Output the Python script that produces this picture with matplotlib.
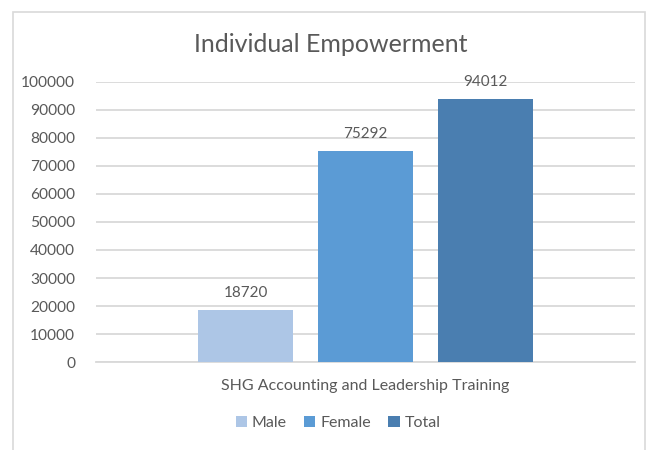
import matplotlib.pyplot as plt
from matplotlib.patches import Rectangle

# chart data
category = "SHG Accounting and Leadership Training"
series = ["Male", "Female", "Total"]
values = [18720, 75292, 94012]
colors = ["#adc6e6", "#5b9bd5", "#4a7eb0"]
yticks = list(range(0, 100001, 10000))

plt.rcParams["font.family"] = ["Lato", "DejaVu Sans"]
text_color = "#595959"

fig = plt.figure(figsize=(6.62, 4.5), dpi=100)
W, H = 662, 450

# chart border like an Excel chart object
fig.patches.append(Rectangle((13 / W, -0.05), (645 - 13) / W, 1.05 - 12 / H,
                             transform=fig.transFigure, fill=False,
                             edgecolor="#d9d9d9", linewidth=1.2))

# plot area: x 96..635, y 82..362 (pixels from top)
ax = fig.add_axes([96 / W, 1 - 362 / H, (635 - 96) / W, (362 - 82) / H])

positions = [-1, 0, 1]
bars = ax.bar(positions, values, width=0.79, color=colors, zorder=3)

for x, v in zip(positions, values):
    ax.annotate(str(v), (x, v), xytext=(0, 7), textcoords="offset points",
                ha="center", va="bottom", fontsize=11, color=text_color)

ax.set_xlim(-2.246, 2.246)
ax.set_ylim(0, 100000)
ax.set_yticks(yticks)
ax.set_yticklabels([str(t) for t in yticks])
ax.yaxis.grid(True, color="#d9d9d9", linewidth=1.3, zorder=0)
ax.tick_params(axis="y", length=0, pad=15, labelsize=11.2, labelcolor=text_color)
ax.set_xticks([0])
ax.set_xticklabels([category])
ax.tick_params(axis="x", length=0, pad=12, labelsize=11.5, labelcolor=text_color)
for side in ["top", "right", "left"]:
    ax.spines[side].set_visible(False)
ax.spines["bottom"].set_color("#d9d9d9")
ax.spines["bottom"].set_linewidth(1.3)

fig.text(0.5, 1 - 44 / H, "Individual Empowerment", ha="center", va="center",
         fontsize=18, color=text_color)

fig.legend(handles=list(bars), labels=series, loc="center",
           bbox_to_anchor=(338 / W, 1 - 423 / H), ncol=3, frameon=False,
           fontsize=11.5, labelcolor=text_color, handlelength=0.7,
           handleheight=0.7, handletextpad=0.3, columnspacing=1.1)

fig.savefig("out.png", dpi=100, facecolor="white")
